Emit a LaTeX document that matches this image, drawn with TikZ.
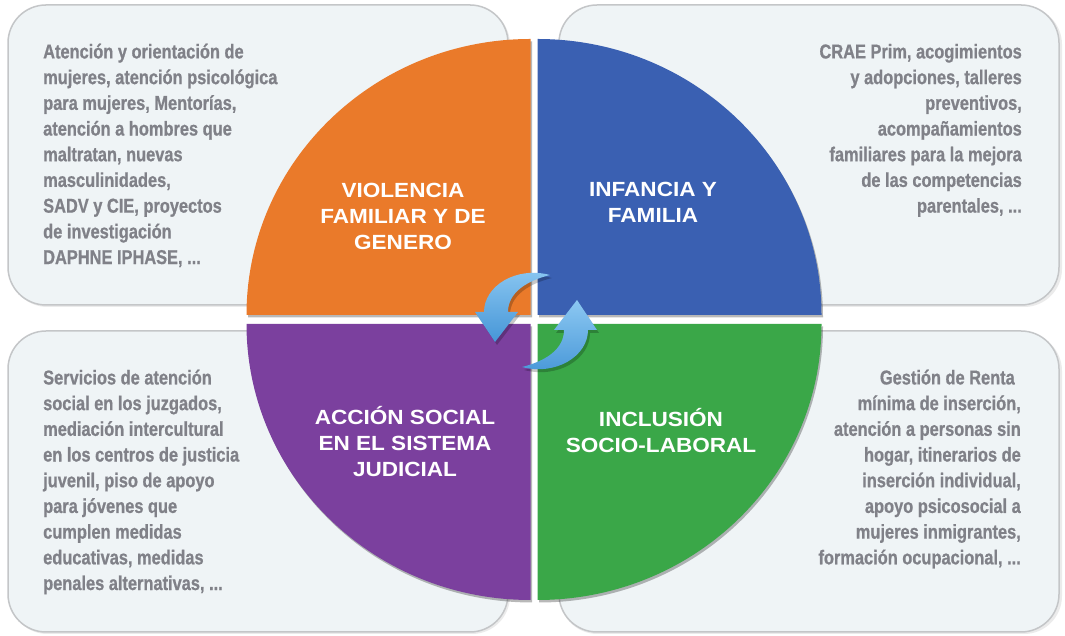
\documentclass[tikz,border=0pt]{standalone}
\usepackage{fontspec}
\newfontfamily\descfont[FakeStretch=0.82,FakeBold=0.8]{Liberation Sans}
\newfontfamily\capfont[FakeStretch=1.1]{Liberation Sans}
\definecolor{boxfill}{RGB}{239,244,246}
\definecolor{boxline}{RGB}{196,198,200}
\definecolor{desctext}{RGB}{128,129,136}
\definecolor{qorange}{RGB}{234,122,42}
\definecolor{qblue}{RGB}{58,96,178}
\definecolor{qpurple}{RGB}{123,64,158}
\definecolor{qgreen}{RGB}{58,167,72}
\definecolor{arrowlight}{RGB}{140,200,242}
\definecolor{arrowdark}{RGB}{70,150,215}
\begin{document}
\begin{tikzpicture}[x=1pt,y=1pt,
  infobox/.style={draw=boxline, line width=1.5pt, fill=boxfill, rounded corners=38pt,
    minimum width=500pt, minimum height=300pt, inner sep=0pt},
  boxshadow/.style={fill=black, opacity=0.08, rounded corners=38pt},
  qshadow/.style={fill=black, opacity=0.28},
  desc/.style={text=desctext, inner sep=0pt,
    font=\descfont\bfseries\fontsize{20}{25.7}\selectfont},
  qlabel/.style={text=white, align=center, inner sep=0pt,
    font=\capfont\bfseries\fontsize{20.5}{26}\selectfont},
  arrowbody/.style={top color=arrowlight, bottom color=arrowdark},
  arrowshadow/.style={fill=black, opacity=0.22}]
\useasboundingbox (0,0) rectangle (1065,636);
\fill[white] (0,0) rectangle (1065,636);

% soft shadows under the four text panels
\fill[boxshadow] (9.5,329) rectangle (510,629.5);
\fill[boxshadow] (559.5,329) rectangle (1062,629.5);
\fill[boxshadow] (9.5,2) rectangle (510,303);
\fill[boxshadow] (559.5,2) rectangle (1062,303);

% text panels
\node[infobox] (boxTL) at (258,481) {};
\node[infobox] (boxTR) at (809,481) {};
\node[infobox, minimum height=301pt] (boxBL) at (258,154.5) {};
\node[infobox, minimum height=301pt] (boxBR) at (809,154.5) {};

% shadows of the four quarter discs
\begin{scope}[shift={(1.5,-2.5)}]
  \fill[qshadow] (530.5,321) -- (246.5,321) arc[start angle=180,end angle=90,x radius=284,y radius=276] -- cycle;
  \fill[qshadow] (537.5,321) -- (537.5,597) arc[start angle=90,end angle=0,x radius=284,y radius=276] -- cycle;
  \fill[qshadow] (530.5,312) -- (246.5,312) arc[start angle=180,end angle=270,x radius=284,y radius=276] -- cycle;
  \fill[qshadow] (537.5,312) -- (821.5,312) arc[start angle=0,end angle=-90,x radius=284,y radius=276] -- cycle;
\end{scope}

% the four quarter discs
\fill[qorange] (530.5,321) -- (246.5,321) arc[start angle=180,end angle=90,x radius=284,y radius=276] -- cycle;
\fill[qblue] (537.5,321) -- (537.5,597) arc[start angle=90,end angle=0,x radius=284,y radius=276] -- cycle;
\fill[qpurple] (530.5,312) -- (246.5,312) arc[start angle=180,end angle=270,x radius=284,y radius=276] -- cycle;
\fill[qgreen] (537.5,312) -- (821.5,312) arc[start angle=0,end angle=-90,x radius=284,y radius=276] -- cycle;

% quadrant titles
\node[qlabel] (labViolencia) at (403,420) {VIOLENCIA\\FAMILIAR Y DE\\GENERO};
\node[qlabel] (labInfancia) at (653,433.5) {INFANCIA Y\\FAMILIA};
\node[qlabel] (labAccion) at (405,194) {ACCIÓN SOCIAL\\EN EL SISTEMA\\JUDICIAL};
\node[qlabel] (labInclusion) at (661,205.5) {INCLUSIÓN\\SOCIO-LABORAL};

% the two circular arrows in the middle
\begin{scope}[shift={(538,312)}]
  \fill[arrowshadow] (14,46) .. controls (-20,55) and (-52,35) .. (-52,9) -- (-61,9) -- (-41,-21) -- (-18,9) -- (-28,9) .. controls (-28,28) and (-10,40) .. (14,46) -- cycle;
  \fill[arrowshadow, rotate=180] (14,46) .. controls (-20,55) and (-52,35) .. (-52,9) -- (-61,9) -- (-41,-21) -- (-18,9) -- (-28,9) .. controls (-28,28) and (-10,40) .. (14,46) -- cycle;
\end{scope}
\begin{scope}[shift={(536,315)}]
  \path[arrowbody] (14,46) .. controls (-20,55) and (-52,35) .. (-52,9) -- (-61,9) -- (-41,-21) -- (-18,9) -- (-28,9) .. controls (-28,28) and (-10,40) .. (14,46) -- cycle;
  \path[arrowbody, rotate=180] (14,46) .. controls (-20,55) and (-52,35) .. (-52,9) -- (-61,9) -- (-41,-21) -- (-18,9) -- (-28,9) .. controls (-28,28) and (-10,40) .. (14,46) -- cycle;
\end{scope}

% panel texts
\node[desc, anchor=north west, align=left] (txtTL) at (43,595.5) {\vphantom{Á}Atención y orientación de\\
mujeres, atención psicológica\\
para mujeres, Mentorías,\\
atención a hombres que\\
maltratan, nuevas\\
masculinidades,\\
SADV y CIE, proyectos\\
de investigación\\
DAPHNE IPHASE, ...};
\node[desc, anchor=north east, align=right] (txtTR) at (1022,595.5) {\vphantom{Á}CRAE Prim, acogimientos\\
y adopciones, talleres\\
preventivos,\\
acompañamientos\\
familiares para la mejora\\
de las competencias\\
parentales, ...};
\node[desc, anchor=north west, align=left] (txtBL) at (43,269.5) {\vphantom{Á}Servicios de atención\\
social en los juzgados,\\
mediación intercultural\\
en los centros de justicia\\
juvenil, piso de apoyo\\
para jóvenes que\\
cumplen medidas\\
educativas, medidas\\
penales alternativas, ...};
\node[desc, anchor=north east, align=right] (txtBR) at (1021,269.5) {\vphantom{Á}Gestión de Renta\hspace*{0.3em}\\
mínima de inserción,\\
atención a personas sin\\
hogar, itinerarios de\\
inserción individual,\\
apoyo psicosocial a\\
mujeres inmigrantes,\\
formación ocupacional, ...};
\end{tikzpicture}
\end{document}
